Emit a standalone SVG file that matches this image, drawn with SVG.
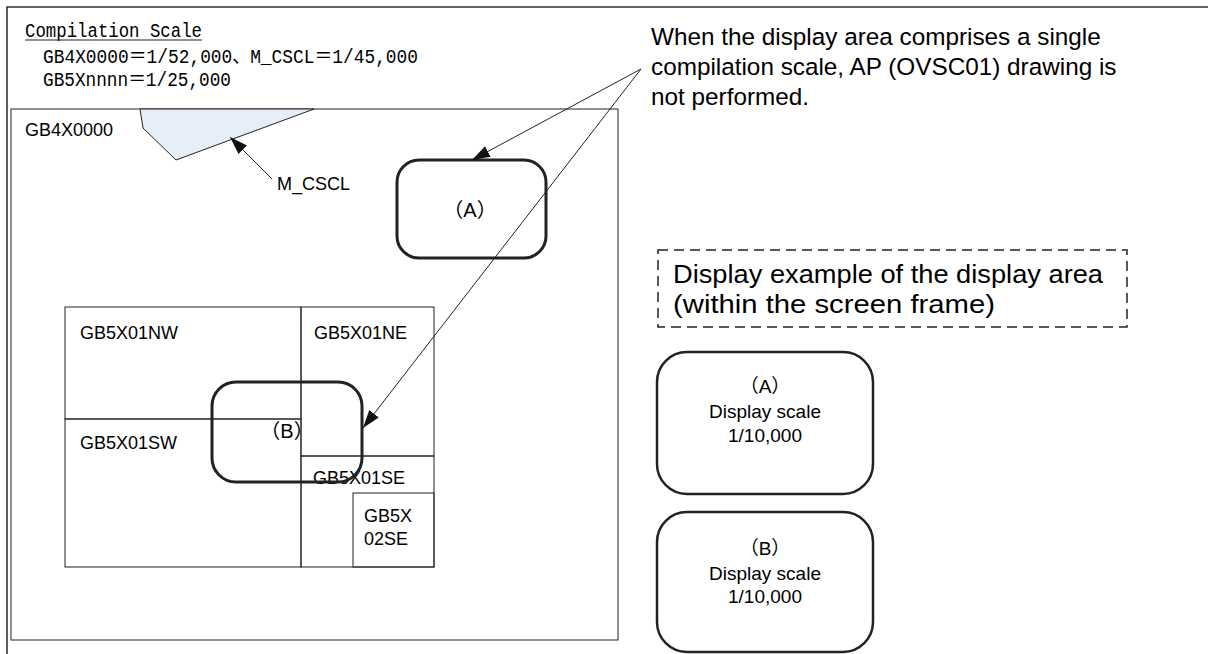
<svg xmlns="http://www.w3.org/2000/svg" width="1208" height="654" viewBox="0 0 1208 654">
<style>
.t{font-family:"Liberation Sans","Noto Sans CJK JP",Arial,sans-serif;fill:#000}
.m{font-family:"Liberation Mono","Noto Sans CJK JP",monospace;fill:#000;font-size:20px}
.thin{fill:none;stroke:#222;stroke-width:1}
.rr{fill:none;stroke:#222;stroke-width:3}
.rr2{fill:none;stroke:#222;stroke-width:2.5}
.ln{stroke:#222;stroke-width:1;fill:none}
</style>
<defs>
<marker id="ah" viewBox="0 0 18 12" refX="18" refY="6" markerWidth="18" markerHeight="12" markerUnits="userSpaceOnUse" orient="auto">
<path d="M0,0 L18,6 L0,12 Z" fill="#111"/>
</marker>
</defs>
<rect width="1208" height="654" fill="#fff"/>
<g id="frame"><path d="M7,654 V7 H1208" fill="none" stroke="#333" stroke-width="1.6"/></g>
<g id="legend">
<text class="m" x="25" y="37" textLength="177" lengthAdjust="spacingAndGlyphs">Compilation Scale</text>
<line x1="25" y1="40" x2="202" y2="40" stroke="#222" stroke-width="1"/>
<text class="m" x="43" y="63" textLength="375" lengthAdjust="spacingAndGlyphs">GB4X0000＝1/52,000、M_CSCL＝1/45,000</text>
<text class="m" x="43" y="86" textLength="188" lengthAdjust="spacingAndGlyphs">GB5Xnnnn＝1/25,000</text>
</g>
<g id="gb4x0000">
<rect class="thin" x="11" y="109" width="607" height="531"/>
<text class="t" x="25" y="136" font-size="18">GB4X0000</text>
</g>
<g id="m_cscl">
<polygon points="140,109 143,128 176,160 314,109" fill="#e6eef8" stroke="#222" stroke-width="1"/>
<text class="t" x="277" y="190" font-size="18">M_CSCL</text>
</g>
<g id="gb5x01nw">
<rect class="thin" x="65" y="307" width="236" height="112"/>
<text class="t" x="80" y="339" font-size="18">GB5X01NW</text>
</g>
<g id="gb5x01ne">
<rect class="thin" x="301" y="307" width="133" height="149"/>
<text class="t" x="314" y="339" font-size="18">GB5X01NE</text>
</g>
<g id="gb5x01sw">
<rect class="thin" x="65" y="419" width="236" height="148"/>
<text class="t" x="80" y="449" font-size="18">GB5X01SW</text>
</g>
<g id="gb5x01se">
<rect class="thin" x="301" y="456" width="133" height="111"/>
<text class="t" x="313" y="484" font-size="18">GB5X01SE</text>
</g>
<g id="gb5x02se">
<rect class="thin" x="353" y="493" width="81" height="74"/>
<text class="t" x="364" y="522" font-size="18">GB5X</text>
<text class="t" x="364" y="545" font-size="18">02SE</text>
</g>
<g id="areaA">
<rect class="rr" x="397" y="160" width="149" height="98" rx="22"/>
<text class="t" x="470" y="217" font-size="20" text-anchor="middle">（A）</text>
</g>
<g id="areaB">
<rect class="rr" x="212" y="382" width="150" height="100" rx="24"/>
<text class="t" x="287" y="438" font-size="20" text-anchor="middle">（B）</text>
</g>
<g id="callout">
<text class="t" font-size="24.3"><tspan x="651" y="45">When the display area comprises a single</tspan><tspan x="651" y="75">compilation scale, AP (OVSC01) drawing is</tspan><tspan x="651" y="105">not performed.</tspan></text>
</g>
<g id="example">
<rect x="658" y="250" width="469" height="77" fill="none" stroke="#222" stroke-width="1.5" stroke-dasharray="10,6"/>
<text class="t" font-size="25"><tspan x="673" y="283" textLength="430" lengthAdjust="spacingAndGlyphs">Display example of the display area</tspan><tspan x="673" y="313" textLength="322" lengthAdjust="spacingAndGlyphs">(within the screen frame)</tspan></text>
</g>
<g id="displayA">
<rect class="rr2" x="657" y="352" width="216" height="142" rx="30"/>
<text class="t" font-size="19" text-anchor="middle"><tspan x="765" y="393">（A）</tspan><tspan x="765" y="418">Display scale</tspan><tspan x="765" y="442">1/10,000</tspan></text>
</g>
<g id="displayB">
<rect class="rr2" x="657" y="512" width="216" height="140" rx="30"/>
<text class="t" font-size="19" text-anchor="middle"><tspan x="765" y="555">（B）</tspan><tspan x="765" y="580">Display scale</tspan><tspan x="765" y="603">1/10,000</tspan></text>
</g>
<g id="connectors">
<line class="ln" x1="272" y1="179" x2="230" y2="137" marker-end="url(#ah)"/>
<line class="ln" x1="641" y1="69" x2="472" y2="160" marker-end="url(#ah)"/>
<line class="ln" x1="641" y1="69" x2="363" y2="428" marker-end="url(#ah)"/>
</g>
</svg>
